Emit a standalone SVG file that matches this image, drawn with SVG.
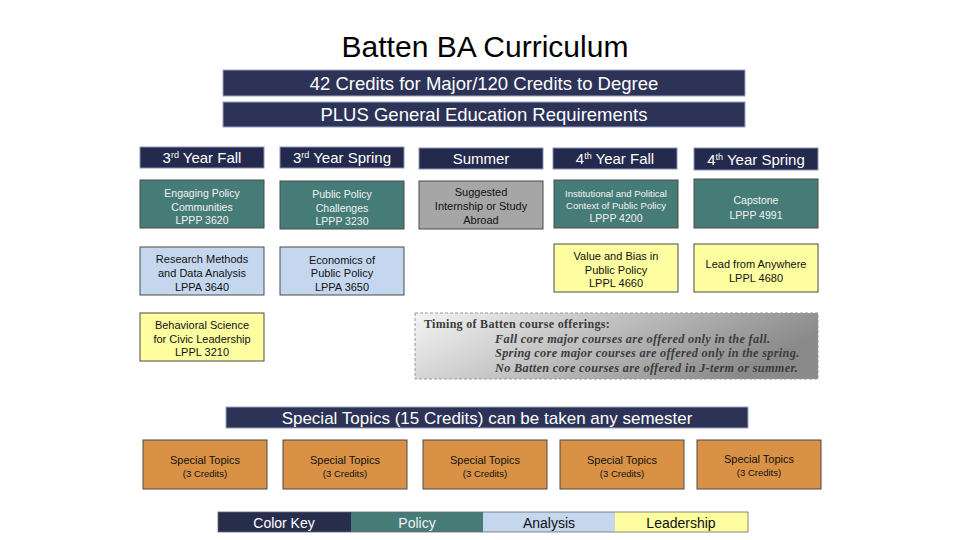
<svg xmlns="http://www.w3.org/2000/svg" width="960" height="540" viewBox="0 0 960 540">
<defs>
<linearGradient id="noteGrad" x1="0" y1="0" x2="1" y2="0.3">
<stop offset="0" stop-color="#f4f4f4"/>
<stop offset="1" stop-color="#8a8a8a"/>
</linearGradient>
<style>
text{font-family:"Liberation Sans",Arial,sans-serif;text-anchor:middle}
.title{font-size:30px;fill:#000}
.banner{fill:#2c3357;stroke:#9aa3c0;stroke-width:1}
.bt{font-size:18.5px;fill:#fff}
.hdr{fill:#232a4d;stroke:#8b93b3;stroke-width:1}
.ht{font-size:15px;fill:#fff}
.sup{font-size:9px}
.box{stroke:#4a4a4a;stroke-width:1}
.pol{fill:#467c78}
.ana{fill:#c5d7ee}
.lead{fill:#fefea0}
.sum{fill:#a6a6a6}
.spec{fill:#d89145}
.tw{font-size:10.5px;fill:#f2f2f2}
.td{font-size:11px;fill:#111}
.ts{font-size:9.5px;fill:#111}
.note{fill:url(#noteGrad);stroke:#9a9a9a;stroke-width:1;stroke-dasharray:3 2}
.nt{font-family:"Liberation Serif","Times New Roman",serif;font-weight:bold;fill:#3c3c3c;text-anchor:start}
.ni{font-style:italic;font-size:12.3px;letter-spacing:0.3px}
.kt{font-size:14px}
</style>
</defs>
<rect width="960" height="540" fill="#fff"/>
<text class="title" x="485" y="57">Batten BA Curriculum</text>

<g id="banner-credits"><rect class="banner" x="223" y="70" width="522" height="26"/><text class="bt" x="484" y="90">42 Credits for Major/120 Credits to Degree</text></g>
<g id="banner-gened"><rect class="banner" x="223" y="102" width="522" height="25"/><text class="bt" x="484" y="121">PLUS General Education Requirements</text></g>

<g id="hdr-3fall"><rect class="hdr" x="140" y="147" width="124" height="21"/><text class="ht" x="202" y="163">3<tspan class="sup" dy="-5">rd</tspan><tspan dy="5"> Year Fall</tspan></text></g>
<g id="hdr-3spring"><rect class="hdr" x="280" y="147" width="124" height="21"/><text class="ht" x="342" y="163">3<tspan class="sup" dy="-5">rd</tspan><tspan dy="5"> Year Spring</tspan></text></g>
<g id="hdr-summer"><rect class="hdr" x="419" y="148" width="124" height="21"/><text class="ht" x="481" y="164">Summer</text></g>
<g id="hdr-4fall"><rect class="hdr" x="553" y="148" width="124" height="21"/><text class="ht" x="615" y="164">4<tspan class="sup" dy="-5">th</tspan><tspan dy="5"> Year Fall</tspan></text></g>
<g id="hdr-4spring"><rect class="hdr" x="694" y="148" width="124" height="22"/><text class="ht" x="756" y="165">4<tspan class="sup" dy="-5">th</tspan><tspan dy="5"> Year Spring</tspan></text></g>

<g id="lppp3620"><rect class="box pol" x="140" y="180" width="124" height="48"/><text class="tw" x="202" y="197">Engaging Policy</text><text class="tw" x="202" y="211">Communities</text><text class="tw" x="202" y="224">LPPP 3620</text></g>
<g id="lppa3640"><rect class="box ana" x="140" y="247" width="124" height="48"/><text class="td" x="202" y="263">Research Methods</text><text class="td" x="202" y="277">and Data Analysis</text><text class="td" x="202" y="291">LPPA 3640</text></g>
<g id="lppl3210"><rect class="box lead" x="140" y="313" width="124" height="48"/><text class="td" x="202" y="329">Behavioral Science</text><text class="td" x="202" y="343">for Civic Leadership</text><text class="td" x="202" y="356">LPPL 3210</text></g>

<g id="lppp3230"><rect class="box pol" x="280" y="181" width="124" height="48"/><text class="tw" x="342" y="198">Public Policy</text><text class="tw" x="342" y="212">Challenges</text><text class="tw" x="342" y="225">LPPP 3230</text></g>
<g id="lppa3650"><rect class="box ana" x="280" y="247" width="124" height="48"/><text class="td" x="342" y="264">Economics of</text><text class="td" x="342" y="277">Public Policy</text><text class="td" x="342" y="291">LPPA 3650</text></g>

<g id="summer"><rect class="box sum" x="419" y="181" width="124" height="48"/><text class="td" x="481" y="196">Suggested</text><text class="td" x="481" y="210">Internship or Study</text><text class="td" x="481" y="224">Abroad</text></g>

<g id="lppp4200"><rect class="box pol" x="554" y="180" width="124" height="48"/><text class="tw" x="616" y="197" style="font-size:9.5px">Institutional and Political</text><text class="tw" x="616" y="209" style="font-size:9.5px">Context of Public Policy</text><text class="tw" x="616" y="222">LPPP 4200</text></g>
<g id="lppl4660"><rect class="box lead" x="554" y="244" width="124" height="48"/><text class="td" x="616" y="260">Value and Bias in</text><text class="td" x="616" y="274">Public Policy</text><text class="td" x="616" y="287">LPPL 4660</text></g>

<g id="lppp4991"><rect class="box pol" x="694" y="179" width="124" height="49"/><text class="tw" x="756" y="204">Capstone</text><text class="tw" x="756" y="219">LPPP 4991</text></g>
<g id="lppl4680"><rect class="box lead" x="694" y="244" width="124" height="48"/><text class="td" x="756" y="268">Lead from Anywhere</text><text class="td" x="756" y="282">LPPL 4680</text></g>

<g id="timing-note"><rect class="note" x="415" y="313" width="403" height="66"/>
<text class="nt" x="424" y="328" style="font-size:12px;letter-spacing:0.3px">Timing of Batten course offerings:</text>
<text class="nt ni" x="495" y="343">Fall core major courses are offered only in the fall.</text>
<text class="nt ni" x="495" y="357">Spring core major courses are offered only in the spring.</text>
<text class="nt ni" x="495" y="372">No Batten core courses are offered in J-term or summer.</text>
</g>

<g id="banner-special"><rect class="banner" x="226" y="407" width="522" height="21"/><text class="bt" x="487" y="424" style="font-size:17px">Special Topics (15 Credits) can be taken any semester</text></g>

<g id="special-1"><rect class="box spec" x="143" y="440" width="124" height="49"/><text class="td" x="205" y="464">Special Topics</text><text class="ts" x="205" y="477">(3 Credits)</text></g>
<g id="special-2"><rect class="box spec" x="283" y="440" width="124" height="49"/><text class="td" x="345" y="464">Special Topics</text><text class="ts" x="345" y="477">(3 Credits)</text></g>
<g id="special-3"><rect class="box spec" x="423" y="440" width="124" height="49"/><text class="td" x="485" y="464">Special Topics</text><text class="ts" x="485" y="477">(3 Credits)</text></g>
<g id="special-4"><rect class="box spec" x="560" y="440" width="124" height="49"/><text class="td" x="622" y="464">Special Topics</text><text class="ts" x="622" y="477">(3 Credits)</text></g>
<g id="special-5"><rect class="box spec" x="697" y="440" width="124" height="49"/><text class="td" x="759" y="463">Special Topics</text><text class="ts" x="759" y="476">(3 Credits)</text></g>

<g id="color-key">
<rect x="218" y="512" width="133" height="20" fill="#272d4d"/>
<rect x="351" y="512" width="132" height="20" fill="#467c78"/>
<rect x="483" y="512" width="132" height="20" fill="#c5d7ee"/>
<rect x="615" y="512" width="133" height="20" fill="#fefea0"/>
<rect x="218" y="512" width="530" height="20" fill="none" stroke="#666" stroke-width="0.8"/>
<text class="kt" x="284" y="528" fill="#fff">Color Key</text>
<text class="kt" x="417" y="528" fill="#f2f2f2">Policy</text>
<text class="kt" x="549" y="528" fill="#111">Analysis</text>
<text class="kt" x="681" y="528" fill="#111">Leadership</text>
</g>
</svg>
